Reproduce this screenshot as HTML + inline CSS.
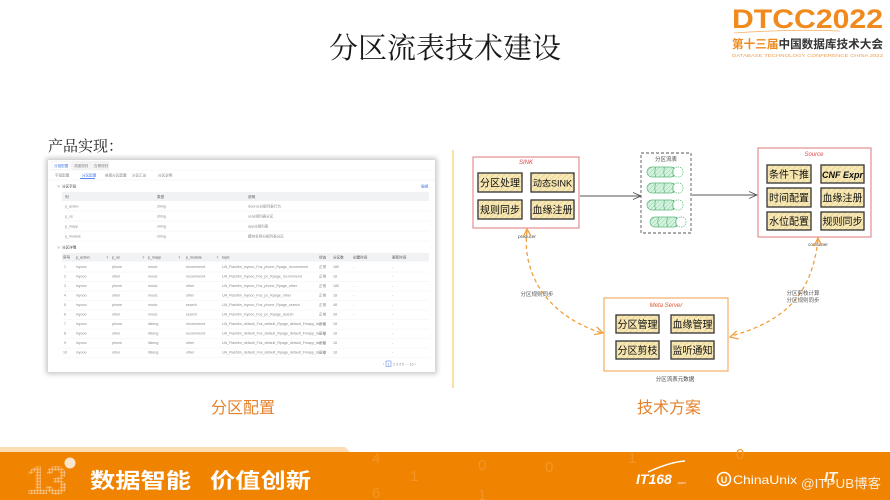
<!DOCTYPE html>
<html><head><meta charset="utf-8"><style>
html,body{margin:0;padding:0;background:#fff;}
svg{display:block;}
.sans{font-family:"Liberation Sans","Noto Sans CJK SC",sans-serif;}
.serif{font-family:"Liberation Serif","Noto Serif CJK SC",serif;}
</style></head><body>
<svg width="890" height="500" viewBox="0 0 890 500" xmlns="http://www.w3.org/2000/svg" class="sans">
<defs>
<pattern id="hy" width="4" height="4" patternUnits="userSpaceOnUse" patternTransform="rotate(45)"><rect width="4" height="4" fill="#f7e8b6"/><line x1="0" y1="0" x2="0" y2="4" stroke="#e6cd85" stroke-width="1.3"/></pattern>
<pattern id="hg" width="3" height="3" patternUnits="userSpaceOnUse" patternTransform="rotate(45)"><rect width="3" height="3" fill="#d9f2e2"/><line x1="0" y1="0" x2="0" y2="3" stroke="#86d3a2" stroke-width="1"/></pattern>
<pattern id="dots" width="3" height="3" patternUnits="userSpaceOnUse"><rect width="3" height="3" fill="#f08300"/><circle cx="1.5" cy="1.5" r="1.2" fill="#f9c790"/></pattern>
<filter id="sh" x="-5%" y="-5%" width="110%" height="110%"><feGaussianBlur stdDeviation="2.5"/></filter>
</defs>

<!-- Title -->
<text x="445" y="58" text-anchor="middle" class="serif" font-size="29" fill="#1a1a1a">分区流表技术建设</text>
<text x="48" y="151" class="serif" font-size="15" fill="#222">产品实现：</text>

<!-- DTCC logo -->
<text x="732" y="28" font-size="27" font-weight="bold" fill="#f08a1c" textLength="151" lengthAdjust="spacingAndGlyphs">DTCC2022</text>
<path d="M734,33 Q790,29 840,31" stroke="#f6b56a" stroke-width="0.8" fill="none"/>
<text x="732" y="48" font-size="11.5" font-weight="bold" textLength="151" lengthAdjust="spacingAndGlyphs"><tspan fill="#f08a1c">第十三届</tspan><tspan fill="#333">中国数据库技术大会</tspan></text>
<text x="732" y="57" font-size="4.6" fill="#f0a050" textLength="151" lengthAdjust="spacingAndGlyphs">DATABASE TECHNOLOGY CONFERENCE CHINA 2022</text>

<!-- Left screenshot card -->
<rect x="46" y="158" width="391" height="216" fill="#999" opacity="0.55" filter="url(#sh)"/>
<rect x="48" y="160" width="387" height="212" fill="#fff"/>
<g font-size="3.6" fill="#888">
<rect x="52" y="161.5" width="19" height="8" fill="#fff" stroke="#e6e6e6" stroke-width="0.4"/>
<rect x="72" y="161.5" width="19" height="8" fill="#f5f5f5" stroke="#e6e6e6" stroke-width="0.4"/>
<rect x="92" y="161.5" width="17" height="8" fill="#f5f5f5" stroke="#e6e6e6" stroke-width="0.4"/>
<text x="54" y="167" fill="#4a7be8">分组配置</text>
<text x="74" y="167">调度规则</text>
<text x="94" y="167">告警规则</text>
<line x1="48" y1="170" x2="435" y2="170" stroke="#eee" stroke-width="0.4"/>
<text x="55" y="176.5">字段配置</text>
<text x="82" y="176.5" fill="#4a7be8">分区配置</text>
<rect x="80" y="178" width="15" height="0.9" fill="#4a7be8"/>
<text x="105" y="176.5">维度分区配置</text>
<text x="132" y="176.5">分区汇总</text>
<text x="158" y="176.5">分区说明</text>
<line x1="48" y1="180" x2="435" y2="180" stroke="#eee" stroke-width="0.5"/>
<text x="57" y="187.5" fill="#666">∨</text><text x="62" y="187.5" fill="#444">分区字段</text>
<text x="421" y="187.5" fill="#4a7be8">编辑</text>
<rect x="62" y="192" width="367" height="9" fill="#f1f2f4"/>
<text x="65" y="198" fill="#555">列</text><text x="157" y="198" fill="#555">类型</text><text x="248" y="198" fill="#555">说明</text>
<text x="65" y="207.5">p_action</text><text x="157" y="207.5">string</text><text x="248" y="207.5">Source分组列表行为</text>
<line x1="62" y1="211" x2="429" y2="211" stroke="#f0f0f0" stroke-width="0.5"/>
<text x="65" y="217.5">p_os</text><text x="157" y="217.5">string</text><text x="248" y="217.5">os分组列表分区</text>
<line x1="62" y1="221" x2="429" y2="221" stroke="#f0f0f0" stroke-width="0.5"/>
<text x="65" y="227.5">p_mapp</text><text x="157" y="227.5">string</text><text x="248" y="227.5">app分组列表</text>
<line x1="62" y1="231" x2="429" y2="231" stroke="#f0f0f0" stroke-width="0.5"/>
<text x="65" y="237.5">p_module</text><text x="157" y="237.5">string</text><text x="248" y="237.5">模块名称分组列表分区</text>
<line x1="62" y1="241" x2="429" y2="241" stroke="#f0f0f0" stroke-width="0.5"/>
<text x="57" y="248.5" fill="#666">∨</text><text x="62" y="248.5" fill="#444">分区详情</text>
<rect x="62" y="253" width="367" height="8.5" fill="#f1f2f4"/>
<g fill="#555">
<text x="63" y="258.5">序号</text><text x="76" y="258.5">p_action</text><text x="112" y="258.5">p_os</text><text x="148" y="258.5">p_mapp</text><text x="186" y="258.5">p_module</text><text x="222" y="258.5">topic</text><text x="319" y="258.5">状态</text><text x="333" y="258.5">分区数</text><text x="353" y="258.5">创建时间</text><text x="392" y="258.5">更新时间</text>
</g>
<g fill="#999">
<text x="106" y="258.5">⇕</text><text x="142" y="258.5">⇕</text><text x="178" y="258.5">⇕</text><text x="216" y="258.5">⇕</text>
</g>
<g>
<text x="64" y="268">1</text><text x="76" y="268">inyooo</text><text x="112" y="268">phone</text><text x="148" y="268">music</text><text x="186" y="268">recommend</text><text x="222" y="268">UA_Flashbn_inyooo_Fos_phone_Rpage_recommend</text><text x="319" y="268">正常</text><text x="333" y="268">180</text><text x="353" y="268">-</text><text x="392" y="268">-</text>
<text x="64" y="277.5">2</text><text x="76" y="277.5">inyooo</text><text x="112" y="277.5">other</text><text x="148" y="277.5">music</text><text x="186" y="277.5">recommend</text><text x="222" y="277.5">UA_Flashbn_inyooo_Fos_pc_Rpage_recommend</text><text x="319" y="277.5">正常</text><text x="333" y="277.5">18</text><text x="392" y="277.5">-</text>
<text x="64" y="287">3</text><text x="76" y="287">inyooo</text><text x="112" y="287">phone</text><text x="148" y="287">music</text><text x="186" y="287">other</text><text x="222" y="287">UA_Flashbn_inyooo_Fos_phone_Rpage_other</text><text x="319" y="287">正常</text><text x="333" y="287">180</text><text x="353" y="287">-</text><text x="392" y="287">-</text>
<text x="64" y="296.5">4</text><text x="76" y="296.5">inyooo</text><text x="112" y="296.5">other</text><text x="148" y="296.5">music</text><text x="186" y="296.5">other</text><text x="222" y="296.5">UA_Flashbn_inyooo_Fos_pc_Rpage_other</text><text x="319" y="296.5">正常</text><text x="333" y="296.5">18</text><text x="353" y="296.5">-</text><text x="392" y="296.5">-</text>
<text x="64" y="306">5</text><text x="76" y="306">inyooo</text><text x="112" y="306">phone</text><text x="148" y="306">music</text><text x="186" y="306">search</text><text x="222" y="306">UA_Flashbn_inyooo_Fos_phone_Rpage_search</text><text x="319" y="306">正常</text><text x="333" y="306">48</text><text x="353" y="306">-</text><text x="392" y="306">-</text>
<text x="64" y="315.5">6</text><text x="76" y="315.5">inyooo</text><text x="112" y="315.5">other</text><text x="148" y="315.5">music</text><text x="186" y="315.5">search</text><text x="222" y="315.5">UA_Flashbn_inyooo_Fos_pc_Rpage_search</text><text x="319" y="315.5">正常</text><text x="333" y="315.5">28</text><text x="353" y="315.5">-</text><text x="392" y="315.5">-</text>
<text x="64" y="325">7</text><text x="76" y="325">inyooo</text><text x="112" y="325">phone</text><text x="148" y="325">listeng</text><text x="186" y="325">recommend</text><text x="222" y="325">UA_Flashbn_default_Fos_default_Rpage_default_Fmapp_isteng</text><text x="319" y="325">正常</text><text x="333" y="325">18</text><text x="392" y="325">-</text>
<text x="64" y="334.5">8</text><text x="76" y="334.5">inyooo</text><text x="112" y="334.5">other</text><text x="148" y="334.5">listeng</text><text x="186" y="334.5">recommend</text><text x="222" y="334.5">UA_Flashbn_default_Fos_default_Rpage_default_Fmapp_isteng</text><text x="319" y="334.5">正常</text><text x="333" y="334.5">18</text><text x="392" y="334.5">-</text>
<text x="64" y="344">9</text><text x="76" y="344">inyooo</text><text x="112" y="344">phone</text><text x="148" y="344">listeng</text><text x="186" y="344">other</text><text x="222" y="344">UA_Flashbn_default_Fos_default_Rpage_default_Fmapp_isteng</text><text x="319" y="344">正常</text><text x="333" y="344">18</text><text x="392" y="344">-</text>
<text x="63" y="353.5">10</text><text x="76" y="353.5">inyooo</text><text x="112" y="353.5">other</text><text x="148" y="353.5">listeng</text><text x="186" y="353.5">other</text><text x="222" y="353.5">UA_Flashbn_default_Fos_default_Rpage_default_Fmapp_isteng</text><text x="319" y="353.5">正常</text><text x="333" y="353.5">18</text><text x="392" y="353.5">-</text>
</g>
<g stroke="#f0f0f0" stroke-width="0.5">
<line x1="62" y1="272" x2="429" y2="272"/><line x1="62" y1="281.5" x2="429" y2="281.5"/><line x1="62" y1="291" x2="429" y2="291"/><line x1="62" y1="300.5" x2="429" y2="300.5"/><line x1="62" y1="310" x2="429" y2="310"/><line x1="62" y1="319.5" x2="429" y2="319.5"/><line x1="62" y1="329" x2="429" y2="329"/><line x1="62" y1="338.5" x2="429" y2="338.5"/><line x1="62" y1="348" x2="429" y2="348"/><line x1="62" y1="357.5" x2="429" y2="357.5"/>
</g>
<rect x="386" y="361" width="5" height="5.5" fill="#fff" stroke="#4a7be8" stroke-width="0.5"/>
<text x="383" y="365.5">‹</text><text x="387.5" y="365.5" fill="#4a7be8">1</text><text x="393" y="365.5">2  3  4  5  ···  10  ›</text>
</g>

<!-- divider -->
<line x1="453" y1="150" x2="453" y2="388" stroke="#f6c04a" stroke-width="1"/>

<!-- captions -->
<text x="243" y="413" text-anchor="middle" font-size="16" fill="#e5822c">分区配置</text>
<text x="669" y="413" text-anchor="middle" font-size="16" fill="#e5822c">技术方案</text>

<!-- SINK box -->
<rect x="473" y="157" width="106" height="71" fill="#fff" stroke="#e08585" stroke-width="1.1"/>
<text x="526" y="164" text-anchor="middle" font-size="6" font-style="italic" fill="#e04848">SINK</text>
<g font-size="10" fill="#111" text-anchor="middle">
<rect x="478" y="173" width="44" height="19" fill="url(#hy)" stroke="#333" stroke-width="1.3"/><text x="500" y="186.5">分区处理</text>
<rect x="531" y="173" width="43" height="19" fill="url(#hy)" stroke="#333" stroke-width="1.3"/><text x="552.5" y="186.5" font-size="9">动态SINK</text>
<rect x="478" y="200" width="44" height="19" fill="url(#hy)" stroke="#333" stroke-width="1.3"/><text x="500" y="213.5">规则同步</text>
<rect x="531" y="200" width="43" height="19" fill="url(#hy)" stroke="#333" stroke-width="1.3"/><text x="552.5" y="213.5">血缘注册</text>
</g>
<text x="527" y="238" text-anchor="middle" font-size="4.5" fill="#444">producer</text>

<!-- arrow SINK -> table -->
<line x1="580" y1="196" x2="641" y2="196" stroke="#555" stroke-width="0.9"/>
<polyline points="633,192.5 641,196 633,199.5" fill="none" stroke="#555" stroke-width="0.9"/>

<!-- dashed table box -->
<rect x="641" y="153" width="50" height="80" fill="#fff" stroke="#555" stroke-width="0.9" stroke-dasharray="3,2"/>
<text x="666" y="161" text-anchor="middle" font-size="5.5" fill="#444">分区流表</text>
<g stroke="#5bb77a" stroke-width="0.7">
<g transform="translate(647,167)"><rect x="0" y="0" width="29" height="10" rx="5" fill="url(#hg)"/><rect x="26" y="0" width="10" height="10" rx="4.5" fill="#fff" stroke-dasharray="1.5,1"/><path d="M9,0 q-2.5,5 0,10 M18,0 q-2.5,5 0,10 M27,0 q-2.5,5 0,10" fill="none"/></g>
<g transform="translate(647,183)"><rect x="0" y="0" width="29" height="10" rx="5" fill="url(#hg)"/><rect x="26" y="0" width="10" height="10" rx="4.5" fill="#fff" stroke-dasharray="1.5,1"/><path d="M9,0 q-2.5,5 0,10 M18,0 q-2.5,5 0,10 M27,0 q-2.5,5 0,10" fill="none"/></g>
<g transform="translate(647,200)"><rect x="0" y="0" width="29" height="10" rx="5" fill="url(#hg)"/><rect x="26" y="0" width="10" height="10" rx="4.5" fill="#fff" stroke-dasharray="1.5,1"/><path d="M9,0 q-2.5,5 0,10 M18,0 q-2.5,5 0,10 M27,0 q-2.5,5 0,10" fill="none"/></g>
<g transform="translate(650,217)"><rect x="0" y="0" width="29" height="10" rx="5" fill="url(#hg)"/><rect x="26" y="0" width="10" height="10" rx="4.5" fill="#fff" stroke-dasharray="1.5,1"/><path d="M9,0 q-2.5,5 0,10 M18,0 q-2.5,5 0,10 M27,0 q-2.5,5 0,10" fill="none"/></g>
</g>

<!-- arrow table -> Source -->
<line x1="692" y1="195" x2="757" y2="195" stroke="#555" stroke-width="0.9"/>
<polyline points="749,191.5 757,195 749,198.5" fill="none" stroke="#555" stroke-width="0.9"/>

<!-- Source box -->
<rect x="758" y="148" width="113" height="89" fill="#fff" stroke="#e08585" stroke-width="1.1"/>
<text x="814" y="156" text-anchor="middle" font-size="6" font-style="italic" fill="#e04848">Source</text>
<g font-size="10" fill="#111" text-anchor="middle">
<rect x="767" y="165" width="44" height="18" fill="url(#hy)" stroke="#333" stroke-width="1.3"/><text x="789" y="178">条件下推</text>
<rect x="821" y="165" width="43" height="18" fill="url(#hy)" stroke="#333" stroke-width="1.3"/><text x="842.5" y="178" font-size="9" font-style="italic" font-weight="bold">CNF Expr</text>
<rect x="767" y="188" width="44" height="19" fill="url(#hy)" stroke="#333" stroke-width="1.3"/><text x="789" y="201.5">时间配置</text>
<rect x="821" y="188" width="43" height="19" fill="url(#hy)" stroke="#333" stroke-width="1.3"/><text x="842.5" y="201.5">血缘注册</text>
<rect x="767" y="212" width="44" height="18" fill="url(#hy)" stroke="#333" stroke-width="1.3"/><text x="789" y="225">水位配置</text>
<rect x="821" y="212" width="43" height="18" fill="url(#hy)" stroke="#333" stroke-width="1.3"/><text x="842.5" y="225">规则同步</text>
</g>
<text x="818" y="246" text-anchor="middle" font-size="4.5" fill="#444">consumer</text>

<!-- Meta server box -->
<rect x="604" y="298" width="124" height="73" fill="#fff" stroke="#f2a85a" stroke-width="1.1"/>
<text x="666" y="307" text-anchor="middle" font-size="6" font-style="italic" fill="#e05a30">Meta Server</text>
<g font-size="10" fill="#111" text-anchor="middle">
<rect x="616" y="315" width="43" height="18" fill="url(#hy)" stroke="#333" stroke-width="1.3"/><text x="637.5" y="328">分区管理</text>
<rect x="671" y="315" width="43" height="18" fill="url(#hy)" stroke="#333" stroke-width="1.3"/><text x="692.5" y="328">血缘管理</text>
<rect x="616" y="341" width="43" height="18" fill="url(#hy)" stroke="#333" stroke-width="1.3"/><text x="637.5" y="354">分区剪枝</text>
<rect x="671" y="341" width="43" height="18" fill="url(#hy)" stroke="#333" stroke-width="1.3"/><text x="692.5" y="354">监听通知</text>
</g>
<text x="675" y="381" text-anchor="middle" font-size="5.5" fill="#444">分区流表元数据</text>

<!-- orange dashed curves -->
<g fill="none" stroke="#f0a040" stroke-width="1.3">
<path d="M527,231 C522,272 545,315 602,333" stroke-dasharray="4,3"/>
<polyline points="523,237 527,229 531,236"/>
<polyline points="594.2,334.6 603,333 596.6,326.8"/>
<path d="M818,240 C812,290 790,320 731,336" stroke-dasharray="4,3"/>
<polyline points="814,246 818,238 822,246"/>
<polyline points="736.7,331 730,337 738.7,339"/>
</g>
<text x="537" y="296" text-anchor="middle" font-size="5.5" fill="#555">分区规则同步</text>
<text x="803" y="295" text-anchor="middle" font-size="5.5" fill="#555">分区剪枝计算</text>
<text x="803" y="302" text-anchor="middle" font-size="5.5" fill="#555">分区规则同步</text>

<!-- Footer -->
<polygon points="0,447 345,447 350,452 0,452" fill="#fbdcb3"/>
<rect x="0" y="452" width="890" height="48" fill="#f08300"/>
<g font-size="15" fill="#f39526">
<text x="372" y="463">4</text><text x="372" y="498">6</text><text x="410" y="481">1</text><text x="478" y="470">0</text><text x="545" y="472">0</text><text x="478" y="500">1</text><text x="628" y="463">1</text><text x="736" y="459">0</text>
</g>
<text x="26" y="494" font-size="40" font-weight="bold" fill="url(#dots)" letter-spacing="-3">13</text>
<circle cx="70" cy="463" r="5.5" fill="#fde4cc"/>
<text x="90" y="488" font-size="21" font-weight="bold" fill="#fff" textLength="101" lengthAdjust="spacingAndGlyphs">数据智能</text>
<text x="210" y="488" font-size="21" font-weight="bold" fill="#fff" textLength="101" lengthAdjust="spacingAndGlyphs">价值创新</text>
<text x="636" y="484" font-size="14" font-weight="bold" font-style="italic" fill="#fff">IT168</text><text x="677" y="484" font-size="4" fill="#fff">.com</text>
<path d="M648,472 Q670,462 685,461" stroke="#fff" stroke-width="1.5" fill="none"/>
<circle cx="724" cy="479" r="6.5" fill="none" stroke="#fff" stroke-width="1.6"/><text x="724" y="483" text-anchor="middle" font-size="9" font-weight="bold" fill="#fff">U</text>
<text x="733" y="484" font-size="12" fill="#fff" textLength="64" lengthAdjust="spacingAndGlyphs">ChinaUnix</text>
<text x="824" y="482" font-size="15" font-weight="bold" font-style="italic" fill="#fff" opacity="0.9">IT</text>
<text x="801" y="488" font-size="13" fill="#fff" opacity="0.85" textLength="80" lengthAdjust="spacingAndGlyphs">@ITPUB博客</text>
</svg>
</body></html>
